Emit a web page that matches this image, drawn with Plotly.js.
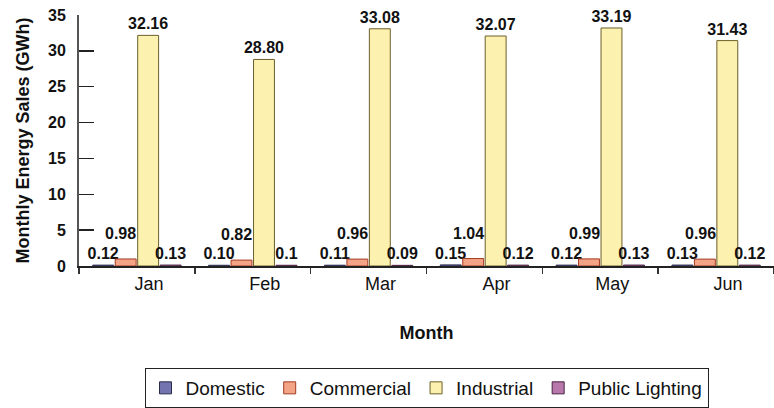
<!DOCTYPE html>
<html>
<head>
<meta charset="utf-8">
<script src="https://cdn.plot.ly/plotly-3.0.1.min.js"></script>
<style>
  html, body { margin: 0; padding: 0; background: #ffffff; }
  #chart { width: 774px; height: 408px; }
</style>
</head>
<body>
<div id="chart"></div>
<script>
// Monthly energy sales by customer class (GWh)
const months = ['Jan', 'Feb', 'Mar', 'Apr', 'May', 'Jun'];
const domestic = [0.12, 0.10, 0.11, 0.15, 0.12, 0.13];
const commercial = [0.98, 0.82, 0.96, 1.04, 0.99, 0.96];
const industrial = [32.16, 28.80, 33.08, 32.07, 33.19, 31.43];
const publicLighting = [0.13, 0.1, 0.09, 0.12, 0.13, 0.12];

const labelFont = { family: 'Liberation Sans, Arial, sans-serif', size: 16, color: '#111111', weight: 'bold' };
const fixed2 = v => v.toFixed(2);

function barTrace(name, values, fill, edge, fmt, showText) {
  return {
    type: 'bar',
    name: name,
    x: months,
    y: values,
    text: showText ? values.map(fmt) : undefined,
    textposition: showText ? 'outside' : 'none',
    textfont: labelFont,
    constraintext: 'none',
    cliponaxis: false,
    hoverinfo: 'x+y+name',
    marker: { color: fill, line: { color: edge, width: 1 } }
  };
}

const traces = [
  barTrace('Domestic', domestic, '#7474b0', '#2a2a4a', fixed2, true),
  barTrace('Commercial', commercial, '#f3a486', '#a33a22', fixed2, false),
  barTrace('Industrial', industrial, '#fcf1ae', '#6b5f2a', fixed2, true),
  barTrace('Public Lighting', publicLighting, '#b878ac', '#4a2042', v => String(v), true)
];

// Commercial labels sit raised above their neighbours
const annotations = months.map((m, i) => ({
  x: m, y: commercial[i], xref: 'x', yref: 'y',
  text: fixed2(commercial[i]),
  showarrow: false,
  yanchor: 'bottom',
  xshift: -16,
  yshift: 15,
  font: labelFont
}));

const layout = {
  width: 774,
  height: 408,
  margin: { l: 79, r: 0, t: 15, b: 138 },
  paper_bgcolor: '#ffffff',
  plot_bgcolor: '#ffffff',
  barmode: 'group',
  bargap: 0.224,
  bargroupgap: 0.07,
  showlegend: true,
  legend: {
    orientation: 'h',
    x: 0.5, xanchor: 'center',
    y: -0.408, yanchor: 'top',
    bordercolor: '#222222',
    borderwidth: 1,
    bgcolor: '#ffffff',
    font: { family: 'Liberation Sans, Arial, sans-serif', size: 19, color: '#111111' }
  },
  xaxis: {
    type: 'category',
    showline: true,
    linecolor: '#222222',
    linewidth: 2,
    ticks: 'outside',
    tickson: 'boundaries',
    ticklen: 6,
    tickwidth: 1.5,
    tickcolor: '#333333',
    showgrid: false,
    zeroline: false,
    ticklabelshift: 12,
    tickfont: { family: 'Liberation Sans, Arial, sans-serif', size: 18, color: '#111111' },
    title: {
      text: 'Month',
      standoff: 34,
      font: { family: 'Liberation Sans, Arial, sans-serif', size: 18, color: '#111111', weight: 'bold' }
    },
    automargin: false
  },
  yaxis: {
    range: [0, 35],
    dtick: 5,
    showline: true,
    linecolor: '#555555',
    linewidth: 2,
    ticks: 'inside',
    ticklen: 15,
    tickwidth: 1.5,
    tickcolor: '#222222',
    showgrid: false,
    zeroline: false,
    ticklabelstandoff: 8,
    tickfont: { family: 'Liberation Sans, Arial, sans-serif', size: 16, color: '#111111', weight: 'bold' },
    title: {
      text: 'Monthly Energy Sales (GWh)',
      standoff: 14,
      font: { family: 'Liberation Sans, Arial, sans-serif', size: 18, color: '#111111', weight: 'bold' }
    },
    automargin: false
  },
  annotations: annotations
};

Plotly.newPlot('chart', traces, layout, { displayModeBar: false, staticPlot: true });
</script>
</body>
</html>
